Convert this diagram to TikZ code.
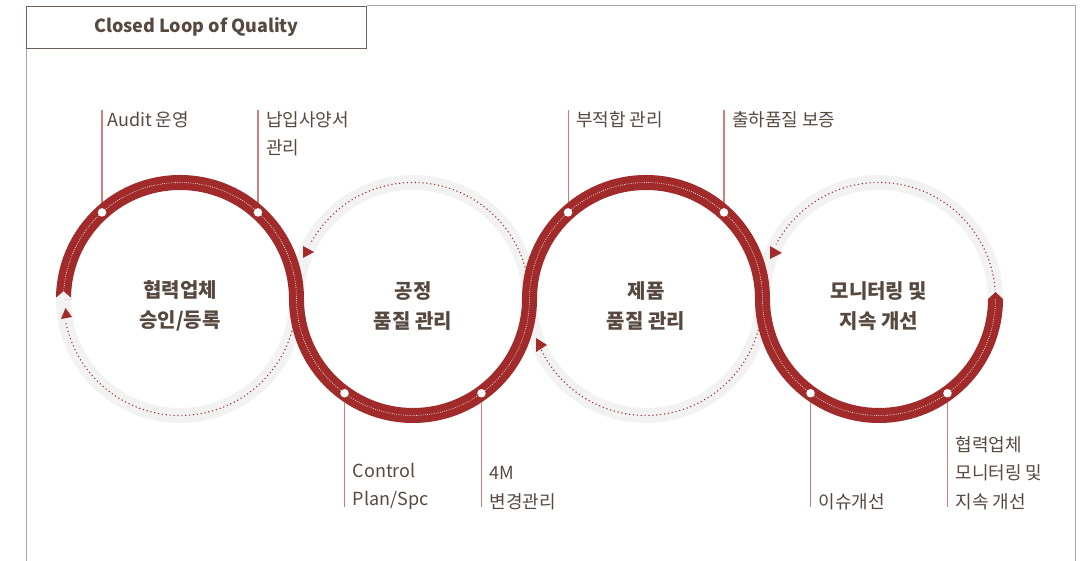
\documentclass[tikz,border=0pt]{standalone}
\usepackage{fontspec}
\setmainfont{Noto Sans CJK KR}
\usepackage{tikz}
\usetikzlibrary{calc, positioning, backgrounds}
\definecolor{loopred}{HTML}{A12B2A}
\definecolor{loopgray}{HTML}{F2F2F2}
\definecolor{textbrown}{HTML}{574840}
\definecolor{titlebrown}{HTML}{6E5F57}
\definecolor{framegray}{HTML}{ABA7A5}
\newcommand{\ringr}{116.5}

\begin{document}
\begin{tikzpicture}[x=1pt, y=1pt,
        ring/.style={line width=15pt, draw=loopgray},
        band/.style={line width=15pt, draw=loopred},
        seam/.style={draw=white, line width=0.7pt, dash pattern=on 0.7pt off 1.5pt},
        back/.style={draw=loopred, line width=1.1pt, dash pattern=on 1.1pt off 2.8pt},
        leader/.style={draw=loopred!60!white, line width=1.1pt},
        dot/.style={circle, fill=white, inner sep=0pt, minimum size=8.5pt},
        hub/.style={align=center, font=\fontsize{20}{29.5}\selectfont\bfseries, text=textbrown},
        lbl/.style={align=left, font=\fontsize{18}{28.5}\selectfont, text=textbrown, inner sep=0pt},
        tip/.style={fill=loopred}
    ]
        \useasboundingbox (0,0) rectangle (1088,561);
        \node[draw=titlebrown, line width=1pt, minimum width=340pt, minimum height=42pt, anchor=north west,
            font=\fontsize{18}{18}\selectfont\bfseries, text=textbrown] (title) at (26,555) {Closed Loop of Quality};
        \draw[framegray, line width=1pt] (title.south west) -- (26,0);
        \draw[framegray, line width=1pt] (title.north east) -- (1075,555) -- (1075,0);

        \coordinate (c1) at (180,262);
        \coordinate (c2) at (413,262);
        \coordinate (c3) at (646,262);
        \coordinate (c4) at (879,262);

        \draw[ring] (c1) circle[radius=\ringr];
        \draw[ring] (c2) circle[radius=\ringr];
        \draw[ring] (c3) circle[radius=\ringr];
        \draw[ring] (c4) circle[radius=\ringr];

        \draw[back] ($(c1)+(192:\ringr)$) arc[start angle=192, end angle=352, radius=\ringr];
        \draw[back] ($(c2)+(10:\ringr)$) arc[start angle=10, end angle=152, radius=\ringr];
        \draw[back] ($(c3)+(206:\ringr)$) arc[start angle=206, end angle=348, radius=\ringr];
        \draw[back] ($(c4)+(4:\ringr)$) arc[start angle=4, end angle=152, radius=\ringr];
        \fill[tip] (61,242) -- (72,244) -- (65.5,253) -- cycle;
        \fill[tip] (303,315) -- (303,303) -- (314,309) -- cycle;
        \fill[tip] (536,223) -- (536,209) -- (547,216) -- cycle;
        \fill[tip] (770,315) -- (770,302) -- (782,308) -- cycle;

        \draw[band] ($(c1)+(180:\ringr)$) arc[start angle=180, end angle=0, radius=\ringr]
            arc[start angle=180, end angle=360, radius=\ringr]
            arc[start angle=180, end angle=0, radius=\ringr]
            arc[start angle=180, end angle=360, radius=\ringr];
        \draw[seam] ($(c1)+(180:\ringr)$) arc[start angle=180, end angle=0, radius=\ringr]
            arc[start angle=180, end angle=360, radius=\ringr]
            arc[start angle=180, end angle=0, radius=\ringr]
            arc[start angle=180, end angle=360, radius=\ringr];
        \fill[loopgray] (56,262) -- (63.5,268.5) -- (71,262) -- cycle;
        \draw[white, line width=0.9pt] (56,262.5) -- (63.5,269) -- (71,262.5);
        \fill[loopred] (988,262) -- (995.5,269) -- (1003,262) -- cycle;
        \draw[white, line width=0.9pt] (987.5,263) -- (995.5,270.5) -- (1003.5,263);

        \node[hub] (supplier) at ([yshift=-7pt]c1) {협력업체\\승인/등록};
        \node[hub] (process) at ([yshift=-7pt]c2) {공정\\품질 관리};
        \node[hub] (product) at ([yshift=-7pt]c3) {제품\\품질 관리};
        \node[hub] (monitor) at ([yshift=-7pt]c4) {모니터링 및\\지속 개선};

        \node[dot] (audit dot) at ($(c1)+(132:\ringr)$) {};
        \node[dot] (spec dot) at ($(c1)+(48:\ringr)$) {};
        \node[dot] (plan dot) at ($(c2)+(234:\ringr)$) {};
        \node[dot] (change dot) at ($(c2)+(306:\ringr)$) {};
        \node[dot] (nonconf dot) at ($(c3)+(132:\ringr)$) {};
        \node[dot] (ship dot) at ($(c3)+(48:\ringr)$) {};
        \node[dot] (issue dot) at ($(c4)+(234:\ringr)$) {};
        \node[dot] (watch dot) at ($(c4)+(306:\ringr)$) {};

        \coordinate (top) at (0,451);
        \coordinate (bottom) at (0,54);
        \node[lbl, anchor=north west, xshift=5pt, yshift=-1pt] (audit) at (audit dot |- top) {Audit 운영};
        \node[lbl, anchor=north west, xshift=8pt, yshift=-1pt] (spec) at (spec dot |- top) {납입사양서\\관리};
        \node[lbl, anchor=south west, xshift=8pt, yshift=-3pt] (plan) at (plan dot |- bottom) {Control\\Plan/Spc};
        \node[lbl, anchor=south west, xshift=8pt, yshift=-3pt] (change) at (change dot |- bottom) {4M\\변경관리};
        \node[lbl, anchor=north west, xshift=8pt, yshift=-1pt] (nonconf) at (nonconf dot |- top) {부적합 관리};
        \node[lbl, anchor=north west, xshift=8pt, yshift=-1pt] (ship) at (ship dot |- top) {출하품질 보증};
        \node[lbl, anchor=south west, xshift=8pt, yshift=-3pt] (issue) at (issue dot |- bottom) {이슈개선};
        \node[lbl, anchor=south west, xshift=8pt, yshift=-3pt] (watch) at (watch dot |- bottom) {협력업체\\모니터링 및\\지속 개선};

        \begin{pgfonlayer}{background}
            \draw[leader] (audit dot.center) -- (audit dot |- top);
            \draw[leader] (spec dot.center) -- (spec dot |- top);
            \draw[leader] (plan dot.center) -- (plan dot |- bottom);
            \draw[leader] (change dot.center) -- (change dot |- bottom);
            \draw[leader] (nonconf dot.center) -- (nonconf dot |- top);
            \draw[leader] (ship dot.center) -- (ship dot |- top);
            \draw[leader] (issue dot.center) -- (issue dot |- bottom);
            \draw[leader] (watch dot.center) -- (watch dot |- bottom);
        \end{pgfonlayer}
    \end{tikzpicture}
\end{document}
